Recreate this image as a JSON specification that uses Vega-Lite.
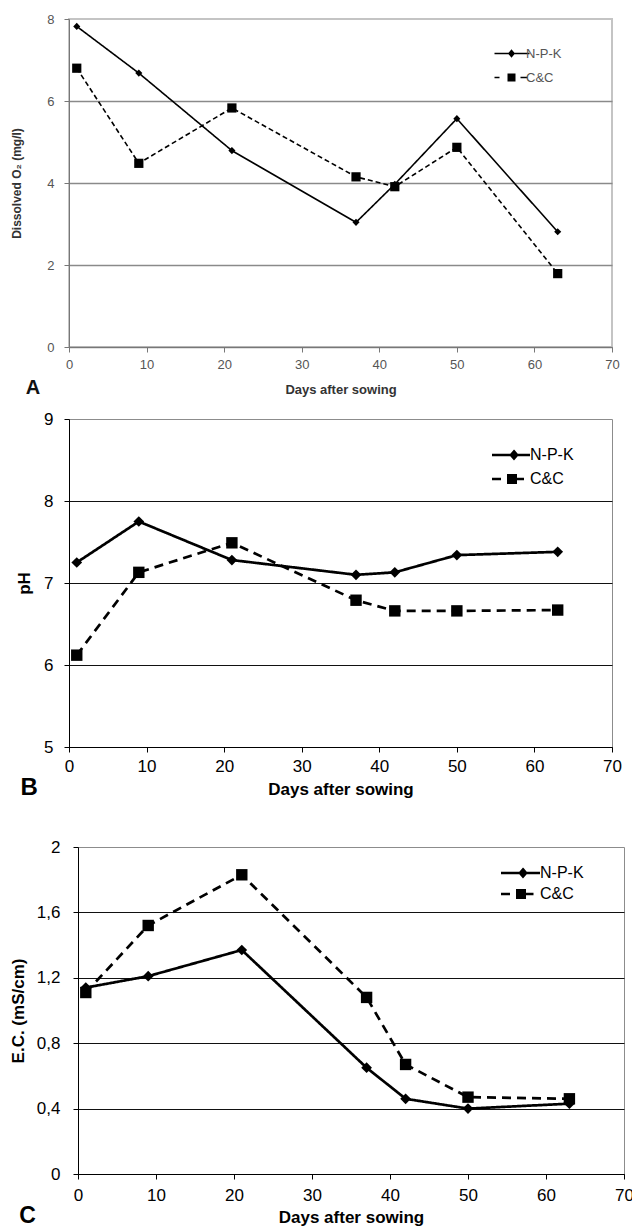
{
  "$schema": "https://vega.github.io/schema/vega-lite/v6.json",
  "padding": {"left": 8, "top": 12, "right": 0, "bottom": 0},
  "background": "white",
  "config": {
    "font": "Liberation Sans",
    "axis": {"labelFont": "Liberation Sans", "titleFont": "Liberation Sans"},
    "legend": {"labelFont": "Liberation Sans"},
    "title": {"font": "Liberation Sans"}
  },
  "datasets": {
    "do": [
      {"day": 1, "series": "N-P-K", "reading": 7.82},
      {"day": 9, "series": "N-P-K", "reading": 6.68},
      {"day": 21, "series": "N-P-K", "reading": 4.79},
      {"day": 37, "series": "N-P-K", "reading": 3.04},
      {"day": 42, "series": "N-P-K", "reading": 3.97},
      {"day": 50, "series": "N-P-K", "reading": 5.57},
      {"day": 63, "series": "N-P-K", "reading": 2.81},
      {"day": 1, "series": "C&C", "reading": 6.8},
      {"day": 9, "series": "C&C", "reading": 4.48},
      {"day": 21, "series": "C&C", "reading": 5.83},
      {"day": 37, "series": "C&C", "reading": 4.15},
      {"day": 42, "series": "C&C", "reading": 3.91},
      {"day": 50, "series": "C&C", "reading": 4.87},
      {"day": 63, "series": "C&C", "reading": 1.79}
    ],
    "ph": [
      {"day": 1, "series": "N-P-K", "reading": 7.25},
      {"day": 9, "series": "N-P-K", "reading": 7.75},
      {"day": 21, "series": "N-P-K", "reading": 7.28},
      {"day": 37, "series": "N-P-K", "reading": 7.1},
      {"day": 42, "series": "N-P-K", "reading": 7.13},
      {"day": 50, "series": "N-P-K", "reading": 7.34},
      {"day": 63, "series": "N-P-K", "reading": 7.38},
      {"day": 1, "series": "C&C", "reading": 6.12},
      {"day": 9, "series": "C&C", "reading": 7.13},
      {"day": 21, "series": "C&C", "reading": 7.49},
      {"day": 37, "series": "C&C", "reading": 6.79},
      {"day": 42, "series": "C&C", "reading": 6.66},
      {"day": 50, "series": "C&C", "reading": 6.66},
      {"day": 63, "series": "C&C", "reading": 6.67}
    ],
    "ec": [
      {"day": 1, "series": "N-P-K", "reading": 1.14},
      {"day": 9, "series": "N-P-K", "reading": 1.21},
      {"day": 21, "series": "N-P-K", "reading": 1.37},
      {"day": 37, "series": "N-P-K", "reading": 0.65},
      {"day": 42, "series": "N-P-K", "reading": 0.46},
      {"day": 50, "series": "N-P-K", "reading": 0.4},
      {"day": 63, "series": "N-P-K", "reading": 0.43},
      {"day": 1, "series": "C&C", "reading": 1.11},
      {"day": 9, "series": "C&C", "reading": 1.52},
      {"day": 21, "series": "C&C", "reading": 1.83},
      {"day": 37, "series": "C&C", "reading": 1.08},
      {"day": 42, "series": "C&C", "reading": 0.67},
      {"day": 50, "series": "C&C", "reading": 0.47},
      {"day": 63, "series": "C&C", "reading": 0.46}
    ]
  },
  "resolve": {
    "scale": {"x": "independent", "y": "independent", "shape": "independent", "strokeDash": "independent"},
    "legend": {"shape": "independent"}
  },
  "spacing": 36,
  "vconcat": [
    {
      "spacing": 10,
      "resolve": {
        "scale": {"x": "independent", "y": "independent", "shape": "independent", "strokeDash": "independent"},
        "legend": {"shape": "independent"}
      },
      "vconcat": [
        {
          "width": 543,
          "height": 328,
          "data": {"name": "do"},
          "view": {"stroke": "#c4c4c4", "strokeWidth": 2},
          "title": {"text": "A", "orient": "bottom", "anchor": "start", "frame": "bounds", "offset": -18, "dx": 15, "fontSize": 20, "fontWeight": "bold", "color": "#111"},
          "encoding": {
            "x": {
              "field": "day", "type": "quantitative",
              "scale": {"domain": [0, 70], "nice": false, "zero": false},
              "axis": {"values": [0, 10, 20, 30, 40, 50, 60, 70], "title": "Days after sowing", "grid": false,
                "labelFontSize": 13, "labelColor": "#555", "labelFlush": false, "labelPadding": 6, "tickSize": 5,
                "tickColor": "#777", "domainColor": "#777", "titleFontSize": 13, "titleFontWeight": "bold",
                "titleColor": "#333", "titlePadding": 12}
            },
            "y": {
              "field": "reading", "type": "quantitative",
              "scale": {"domain": [0, 8], "nice": false},
              "axis": {"values": [0, 2, 4, 6, 8], "title": "Dissolved O₂ (mg/l)", "grid": true,
                "gridColor": "#8a8a8a", "gridWidth": 1.6,
                "gridOpacity": {"condition": {"test": "datum.value >= 8", "value": 0}, "value": 1},
                "labelFontSize": 13, "labelColor": "#555", "labelPadding": 10, "tickSize": 5,
                "tickColor": "#777", "domainColor": "#777", "titleFontSize": 12, "titleFontWeight": "bold",
                "titleColor": "#333", "titlePadding": 23}
            }
          },
          "layer": [
            {
              "mark": {"type": "line", "color": "#000", "strokeWidth": 1.6},
              "encoding": {
                "strokeDash": {"field": "series", "type": "nominal", "scale": {"range": [[5, 3], [1, 0]]}, "legend": null}
              }
            },
            {
              "mark": {"type": "point", "filled": true, "color": "#000", "opacity": 1},
              "encoding": {
                "shape": {"condition": {"test": "datum.series === 'N-P-K'", "value": "diamond"}, "value": "square"},
                "size": {"condition": {"test": "datum.series === 'N-P-K'", "value": 50}, "value": 85}
              }
            },
            {
              "mark": {"type": "point", "filled": false, "color": "#000", "strokeWidth": 1.6, "opacity": 0},
              "encoding": {
                "shape": {
                  "field": "series", "type": "nominal",
                  "scale": {"domain": ["N-P-K", "C&C"], "range": [
                    "M-4.8,0H2.2M-1.4,-0.6L-0.9,0L-1.4,0.6L-1.9,0ZM-1.4,-0.3V0.3",
                    "M-4.8,0H-3.8M-2.04,-0.64H-0.76V0.64H-2.04ZM-1.9,-0.32H-0.9M-1.9,0H-0.9M-1.9,0.32H-0.9M0.4,0H1.8"
                  ]},
                  "legend": {
                    "title": null, "orient": "none", "legendX": 443, "legendY": 28, "padding": 0,
                    "labelFontSize": 13, "labelColor": "#555", "labelOffset": 1, "rowPadding": 10,
                    "symbolSize": 100, "symbolOpacity": 1, "symbolStrokeColor": "#000",
                    "symbolStrokeWidth": 1.6
                  }
                }
              }
            }
          ]
        },
        {
          "width": 543,
          "height": 328,
          "data": {"name": "ph"},
          "view": {"stroke": "#8c8c8c", "strokeWidth": 1},
          "title": {"text": "B", "orient": "bottom", "anchor": "start", "frame": "bounds", "offset": -21, "dx": 5, "fontSize": 24, "fontWeight": "bold", "color": "#000"},
          "encoding": {
            "x": {
              "field": "day", "type": "quantitative",
              "scale": {"domain": [0, 70], "nice": false, "zero": false},
              "axis": {"values": [0, 10, 20, 30, 40, 50, 60, 70], "title": "Days after sowing", "grid": false,
                "labelFontSize": 17, "labelColor": "#000", "labelFlush": false, "labelPadding": 6, "tickSize": 5,
                "tickColor": "#000", "domainColor": "#000", "titleFontSize": 17, "titleFontWeight": "bold",
                "titleColor": "#000", "titlePadding": 7}
            },
            "y": {
              "field": "reading", "type": "quantitative",
              "scale": {"domain": [5, 9], "nice": false, "zero": false},
              "axis": {"values": [5, 6, 7, 8, 9], "title": "pH", "grid": true,
                "gridColor": "#111", "gridWidth": 1,
                "gridOpacity": {"condition": {"test": "datum.value >= 9", "value": 0}, "value": 1},
                "labelFontSize": 17, "labelColor": "#000", "labelPadding": 11, "tickSize": 5,
                "tickColor": "#000", "domainColor": "#000", "titleFontSize": 17, "titleFontWeight": "bold",
                "titleColor": "#000", "titlePadding": 10}
            }
          },
          "layer": [
            {
              "mark": {"type": "line", "color": "#000", "strokeWidth": 2.7},
              "encoding": {
                "strokeDash": {"field": "series", "type": "nominal", "scale": {"range": [[9, 6], [1, 0]]}, "legend": null}
              }
            },
            {
              "mark": {"type": "point", "filled": true, "color": "#000", "opacity": 1},
              "encoding": {
                "shape": {"condition": {"test": "datum.series === 'N-P-K'", "value": "diamond"}, "value": "square"},
                "size": {"condition": {"test": "datum.series === 'N-P-K'", "value": 115}, "value": 130}
              }
            },
            {
              "mark": {"type": "point", "filled": false, "color": "#000", "strokeWidth": 2.7, "opacity": 0},
              "encoding": {
                "shape": {
                  "field": "series", "type": "nominal",
                  "scale": {"domain": ["N-P-K", "C&C"], "range": [
                    "M-5,0H2.6M-0.6,-0.7L0,0L-0.6,0.7L-1.2,0ZM-0.6,-0.35V0.35",
                    "M-5,0H-3.2M-1.73,-0.73H-0.27V0.73H-1.73ZM-1.5,-0.3H-0.5M-1.5,0H-0.5M-1.5,0.3H-0.5M-0.27,0H1.4"
                  ]},
                  "legend": {
                    "title": null, "orient": "none", "legendX": 440, "legendY": 28, "padding": 0,
                    "labelFontSize": 16, "labelColor": "#000", "labelOffset": 5, "rowPadding": 5,
                    "symbolSize": 100, "symbolOpacity": 1, "symbolStrokeColor": "#000",
                    "symbolStrokeWidth": 2.7
                  }
                }
              }
            }
          ]
        }
      ]
    },
    {
      "spacing": 0,
      "bounds": "flush",
      "resolve": {
        "scale": {"x": "independent", "y": "independent", "shape": "independent", "strokeDash": "independent"},
        "legend": {"shape": "independent"}
      },
      "hconcat": [
        {
          "width": 9,
          "height": 10,
          "data": {"values": [{"k": 0}]},
          "mark": {"type": "point", "opacity": 0},
          "view": {"stroke": null}
        },
        {
          "width": 546,
          "height": 327,
          "data": {"name": "ec"},
          "view": {"stroke": "#8c8c8c", "strokeWidth": 1},
          "title": {"text": "C", "orient": "bottom", "anchor": "start", "frame": "bounds", "offset": -20, "dx": 10, "fontSize": 23, "fontWeight": "bold", "color": "#000"},
          "encoding": {
            "x": {
              "field": "day", "type": "quantitative",
              "scale": {"domain": [0, 70], "nice": false, "zero": false},
              "axis": {"values": [0, 10, 20, 30, 40, 50, 60, 70], "title": "Days after sowing", "grid": false,
                "labelFontSize": 17, "labelColor": "#000", "labelFlush": false, "labelPadding": 8, "tickSize": 5,
                "tickColor": "#000", "domainColor": "#000", "titleFontSize": 17, "titleFontWeight": "bold",
                "titleColor": "#000", "titlePadding": 6}
            },
            "y": {
              "field": "reading", "type": "quantitative",
              "scale": {"domain": [0, 2], "nice": false},
              "axis": {"values": [0, 0.4, 0.8, 1.2, 1.6, 2], "title": "E.C. (mS/cm)", "grid": true,
                "labelExpr": "replace(format(datum.value, '.1~f'), '.', ',')",
                "gridColor": "#111", "gridWidth": 1,
                "gridOpacity": {"condition": {"test": "datum.value >= 1.99", "value": 0}, "value": 1},
                "labelFontSize": 17, "labelColor": "#000", "labelPadding": 13, "tickSize": 5,
                "tickColor": "#000", "domainColor": "#000", "titleFontSize": 17, "titleFontWeight": "bold",
                "titleColor": "#000", "titlePadding": 9}
            }
          },
          "layer": [
            {
              "mark": {"type": "line", "color": "#000", "strokeWidth": 2.7},
              "encoding": {
                "strokeDash": {"field": "series", "type": "nominal", "scale": {"range": [[9, 6], [1, 0]]}, "legend": null}
              }
            },
            {
              "mark": {"type": "point", "filled": true, "color": "#000", "opacity": 1},
              "encoding": {
                "shape": {"condition": {"test": "datum.series === 'N-P-K'", "value": "diamond"}, "value": "square"},
                "size": {"condition": {"test": "datum.series === 'N-P-K'", "value": 115}, "value": 130}
              }
            },
            {
              "mark": {"type": "point", "filled": false, "color": "#000", "strokeWidth": 2.7, "opacity": 0},
              "encoding": {
                "shape": {
                  "field": "series", "type": "nominal",
                  "scale": {"domain": ["N-P-K", "C&C"], "range": [
                    "M-5.2,0H2.6M-0.8,-0.7L-0.2,0L-0.8,0.7L-1.4,0ZM-0.8,-0.35V0.35",
                    "M-5.2,0H-3.4M-1.93,-0.73H-0.47V0.73H-1.93ZM-1.7,-0.3H-0.7M-1.7,0H-0.7M-1.7,0.3H-0.7M-0.47,0H1.3"
                  ]},
                  "legend": {
                    "title": null, "orient": "none", "legendX": 441, "legendY": 18, "padding": 0,
                    "labelFontSize": 16, "labelColor": "#000", "labelOffset": 5, "rowPadding": 2,
                    "symbolSize": 100, "symbolOpacity": 1, "symbolStrokeColor": "#000",
                    "symbolStrokeWidth": 2.7
                  }
                }
              }
            }
          ]
        }
      ]
    }
  ]
}
